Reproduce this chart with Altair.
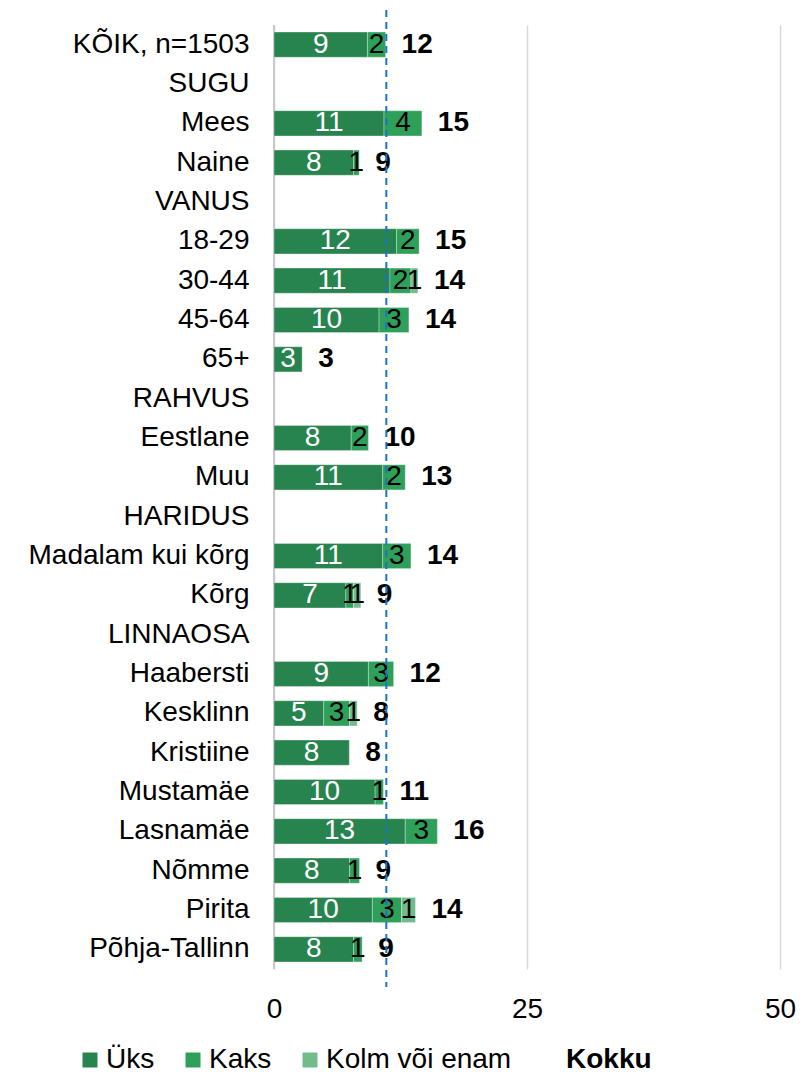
import altair as alt
import pandas as pd

FONT = "Liberation Sans"

categories = ["KÕIK, n=1503", "SUGU", "Mees", "Naine", "VANUS", "18-29", "30-44", "45-64", "65+",
              "RAHVUS", "Eestlane", "Muu", "HARIDUS", "Madalam kui kõrg", "Kõrg", "LINNAOSA",
              "Haabersti", "Kesklinn", "Kristiine", "Mustamäe", "Lasnamäe", "Nõmme", "Pirita", "Põhja-Tallinn"]

# bar lengths (estimated, unrounded)
yks = [9.23, None, 10.87, 7.86, None, 12.11, 11.46, 10.38, 2.78, None, 7.63, 10.74, None, 10.74, 7.10, None,
       9.33, 4.91, 7.44, 9.99, 12.97, 7.47, 9.72, 7.86]
kaks = [1.80, None, 3.74, 0.56, None, 2.23, 2.07, 2.95, None, None, 1.70, 2.23, None, 2.79, 0.76, None,
        2.49, 2.56, None, 0.82, 3.17, 0.98, 2.88, 0.85]
kolm = [None, None, None, None, None, None, 0.69, None, None, None, None, None, None, None, 0.72, None,
        None, 0.75, None, None, None, None, 1.38, None]

# printed labels
lab_yks = ["9", None, "11", "8", None, "12", "11", "10", "3", None, "8", "11", None, "11", "7", None,
           "9", "5", "8", "10", "13", "8", "10", "8"]
lab_kaks = ["2", None, "4", "1", None, "2", "2", "3", None, None, "2", "2", None, "3", "1", None,
            "3", "3", None, "1", "3", "1", "3", "1"]
lab_kolm = [None, None, None, None, None, None, "1", None, None, None, None, None, None, None, "1", None,
            None, "1", None, None, None, None, "1", None]
totals = ["12", None, "15", "9", None, "15", "14", "14", "3", None, "10", "13", None, "14", "9", None,
          "12", "8", "8", "11", "16", "9", "14", "9"]

series_names = ["Üks", "Kaks", "Kolm või enam", "Kokku"]
colors = ["#28844e", "#2ea05a", "#72bc8c", "#ffffff"]
mean_line = 11.1

rows = []
for i, c in enumerate(categories):
    for k, (vals, labs) in enumerate([(yks, lab_yks), (kaks, lab_kaks), (kolm, lab_kolm)]):
        if vals[i] is not None:
            rows.append({"cat": c, "series": series_names[k], "value": vals[i], "label": labs[i], "ord": k})
df = pd.DataFrame(rows)

tot_rows = []
for i, c in enumerate(categories):
    if totals[i] is not None:
        end = sum(v[i] for v in (yks, kaks, kolm) if v[i] is not None)
        tot_rows.append({"cat": c, "end": end, "label": totals[i]})
df_tot = pd.DataFrame(tot_rows)

W, H = 506, 944

yenc = alt.Y("cat:N", sort=categories, title=None,
             scale=alt.Scale(domain=categories, paddingInner=0.36, paddingOuter=0.18),
             axis=alt.Axis(ticks=False, domain=False, labelFont=FONT, labelFontSize=28,
                           labelColor="#000000", labelPadding=25, labelLimit=400))
xscale = alt.Scale(domain=[0, 50], nice=False)

base = alt.Chart(df)

bars = base.mark_bar(stroke="#ffffff", strokeWidth=0.5, strokeOpacity=0.6).encode(
    y=yenc,
    x=alt.X("value:Q", stack="zero", scale=xscale, title=None,
            axis=alt.Axis(values=[0, 25, 50], grid=True, gridColor="#d9d9d9", gridWidth=1.5,
                          ticks=False, domain=False, labelFont=FONT, labelFontSize=28,
                          labelColor="#000000", labelPadding=26, labelFlush=False, format="d")),
    color=alt.Color("series:N", scale=alt.Scale(domain=series_names, range=colors),
                    legend=alt.Legend(title=None, orient="none", direction="horizontal",
                                      legendX=-198, legendY=1021, padding=0,
                                      symbolType="square", symbolSize=225, symbolStrokeWidth=0,
                                      symbolOpacity=1,
                                      labelFont=FONT, labelFontSize=28, labelColor="#000000",
                                      labelOffset=2, columnPadding=24, labelLimit=400,
                                      labelFontWeight=alt.ExprRef(expr="datum.label == 'Kokku' ? 'bold' : 'normal'"))),
    order=alt.Order("ord:Q"),
)

stacked = base.transform_stack(
    stack="value", groupby=["cat"], as_=["x0", "x1"], sort=[alt.SortField("ord", order="ascending")]
).transform_calculate(mid="(datum.x0 + datum.x1) / 2")

txt_white = stacked.transform_filter("datum.series == 'Üks'").mark_text(
    font=FONT, fontSize=28, color="#ffffff", baseline="middle", align="center").encode(
    y=alt.Y("cat:N", sort=categories), x=alt.X("mid:Q", scale=xscale), text="label:N")

txt_black = stacked.transform_filter("datum.series != 'Üks'").mark_text(
    font=FONT, fontSize=28, color="#000000", baseline="middle", align="center").encode(
    y=alt.Y("cat:N", sort=categories), x=alt.X("mid:Q", scale=xscale), text="label:N")

tot = alt.Chart(df_tot).mark_text(font=FONT, fontSize=28, fontWeight="bold", color="#000000",
                                   baseline="middle", align="left", dx=16).encode(
    y=alt.Y("cat:N", sort=categories), x=alt.X("end:Q", scale=xscale), text="label:N")

zero_rule = alt.Chart(pd.DataFrame({"v": [0]})).mark_rule(color="#c8c8c8", strokeWidth=2).encode(
    x=alt.X("v:Q", scale=xscale), y=alt.value(0), y2=alt.value(H))

mean_rule = alt.Chart(pd.DataFrame({"v": [mean_line]})).mark_rule(
    color="#1a73c8", strokeWidth=2, strokeDash=[7, 5]).encode(
    x=alt.X("v:Q", scale=xscale), y=alt.value(-15), y2=alt.value(H + 18))

chart = alt.layer(zero_rule, bars, txt_white, txt_black, tot, mean_rule).properties(
    width=W, height=H,
    autosize=alt.AutoSizeParams(type="none"),
    padding={"left": 266, "top": 17, "right": 17, "bottom": 101},
).configure_view(stroke=None)

chart.save("out.html", embed_options={"renderer": "svg", "actions": False})
